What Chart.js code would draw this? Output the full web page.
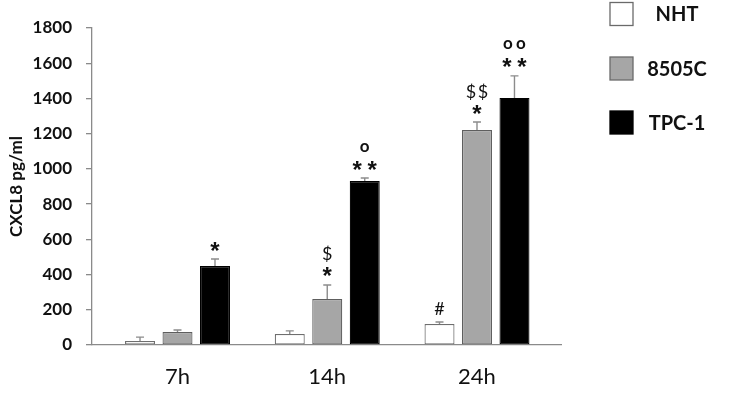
<!DOCTYPE html>
<html>
<head>
<meta charset="utf-8">
<script src="https://cdn.jsdelivr.net/npm/chart.js@4/dist/chart.umd.min.js"></script>
<style>
  html, body { margin: 0; padding: 0; background: #fff; }
  #wrap { width: 729px; height: 402px; }
</style>
</head>
<body>
<div id="wrap"><canvas id="c" width="729" height="402"></canvas></div>
<script>
// ---- data ----
const categories = ['7h', '14h', '24h'];
const seriesNames = ['NHT', '8505C', 'TPC-1'];
const nhtValues = [23, 62, 119];
const nhtErrors = [22, 18, 12];
const c8505Values = [74, 261, 1221];
const c8505Errors = [11, 80, 45];
const tpc1Values = [449, 931, 1403];
const tpc1Errors = [39, 17, 125];
// significance marks (first line just above error bar, second line above it)
const nhtSig1 = ['', '', '#'];
const nhtSig2 = ['', '', ''];
const c8505Sig1 = ['', '*', '*'];
const c8505Sig2 = ['', '$', '$$'];
const tpc1Sig1 = ['*', '**', '**'];
const tpc1Sig2 = ['', 'o', 'oo'];
const yTicks = [0, 200, 400, 600, 800, 1000, 1200, 1400, 1600, 1800];

const FONT = 'Lato, "Open Sans", "Liberation Sans", sans-serif';

function pts(vals) { return vals.map((v, i) => ({ x: i, y: v })); }

const datasets = [
  { label: seriesNames[0], data: pts(nhtValues), err: nhtErrors, sig1: nhtSig1, sig2: nhtSig2,
    backgroundColor: '#ffffff', borderColor: '#6e6e6e' },
  { label: seriesNames[1], data: pts(c8505Values), err: c8505Errors, sig1: c8505Sig1, sig2: c8505Sig2,
    backgroundColor: '#a6a6a6', borderColor: '#5e5e5e' },
  { label: seriesNames[2], data: pts(tpc1Values), err: tpc1Errors, sig1: tpc1Sig1, sig2: tpc1Sig2,
    backgroundColor: '#000000', borderColor: '#000000' }
].map(d => Object.assign(d, { borderWidth: 1.2, borderSkipped: false,
  categoryPercentage: 0.751, barPercentage: 0.8 }));

const symbolStyle = {
  '*': { font: 'bold 24px "Liberation Sans", sans-serif', gap: 15 },
  '$': { font: '18px ' + FONT, gap: 12 },
  'o': { font: 'bold 17px ' + FONT, gap: 13 },
  '#': { font: '18px ' + FONT, gap: 12 }
};

function drawMark(ctx, text, x, yc) {
  if (!text) return;
  const chars = text.split('');
  const st = symbolStyle[chars[0]];
  ctx.font = st.font;
  ctx.fillStyle = '#111';
  ctx.textAlign = 'center';
  ctx.textBaseline = 'alphabetic';
  const n = chars.length;
  chars.forEach((ch, k) => {
    const m = ctx.measureText(ch);
    const yy = yc + (m.actualBoundingBoxAscent - m.actualBoundingBoxDescent) / 2;
    const xx = x + (k - (n - 1) / 2) * st.gap;
    ctx.fillText(ch, xx, yy);
  });
}

const errorAndMarks = {
  id: 'errorAndMarks',
  afterDatasetsDraw(chart) {
    const ctx = chart.ctx;
    const ys = chart.scales.y;
    ctx.save();
    chart.data.datasets.forEach((ds, di) => {
      const meta = chart.getDatasetMeta(di);
      meta.data.forEach((el, i) => {
        const v = ds.data[i].y;
        const e = ds.err[i];
        const top = ys.getPixelForValue(v + e);
        const x = el.x;
        ctx.strokeStyle = '#8c8c8c';
        ctx.lineWidth = 1.4;
        ctx.beginPath();
        ctx.moveTo(x, el.y);
        ctx.lineTo(x, top);
        ctx.moveTo(x - 4, top);
        ctx.lineTo(x + 4, top);
        ctx.stroke();
        drawMark(ctx, ds.sig1[i], x, top - 13);
        drawMark(ctx, ds.sig2[i], x, top - 31);
      });
    });
    ctx.restore();
  }
};

const sideLegend = {
  id: 'sideLegend',
  afterDraw(chart) {
    const ctx = chart.ctx;
    ctx.save();
    const centers = [14, 68.5, 122.5];
    chart.data.datasets.forEach((ds, i) => {
      const cy = centers[i];
      ctx.fillStyle = ds.backgroundColor;
      ctx.fillRect(610, cy - 11.5, 23, 23);
      ctx.strokeStyle = i === 2 ? '#000' : '#6a6a6a';
      ctx.lineWidth = 1.3;
      ctx.strokeRect(610, cy - 11.5, 23, 23);
      ctx.font = 'bold 20px ' + FONT;
      ctx.fillStyle = '#111';
      ctx.textAlign = 'center';
      ctx.textBaseline = 'middle';
      ctx.fillText(ds.label, 677, cy + 1);
    });
    ctx.restore();
  }
};

new Chart(document.getElementById('c'), {
  type: 'bar',
  data: { datasets },
  plugins: [errorAndMarks, sideLegend],
  options: {
    responsive: false,
    animation: false,
    layout: { padding: { top: 28, right: 168, bottom: 0, left: 0 } },
    plugins: { legend: { display: false }, tooltip: { enabled: false } },
    scales: {
      x: {
        type: 'linear',
        min: -0.571,
        max: 2.561,
        offset: false,
        afterBuildTicks(scale) { scale.ticks = categories.map((c, i) => ({ value: i })); },
        afterFit(scale) { scale.height = 57; },
        grid: { display: false, drawTicks: false },
        border: { display: true, color: '#8a8a8a', width: 1.3 },
        ticks: {
          padding: 19,
          color: '#111',
          font: { family: FONT, size: 22 },
          callback: (v) => categories[v] ?? ''
        }
      },
      y: {
        min: 0,
        max: 1800,
        afterBuildTicks(scale) { scale.ticks = yTicks.map(v => ({ value: v })); },
        afterFit(scale) { scale.width = 92; },
        grid: { display: true, drawOnChartArea: false, drawTicks: true, tickLength: 6, color: '#8a8a8a', lineWidth: 1.3 },
        border: { display: true, color: '#8a8a8a', width: 1.3 },
        ticks: {
          padding: 14,
          color: '#111',
          font: { family: FONT, size: 17, weight: 'bold' },
          callback: (v) => String(v)
        },
        title: {
          display: true,
          text: 'CXCL8 pg/ml',
          color: '#111',
          font: { family: FONT, size: 17, weight: 'bold' },
          padding: { top: 6, bottom: 0 }
        }
      }
    }
  }
});
</script>
</body>
</html>
